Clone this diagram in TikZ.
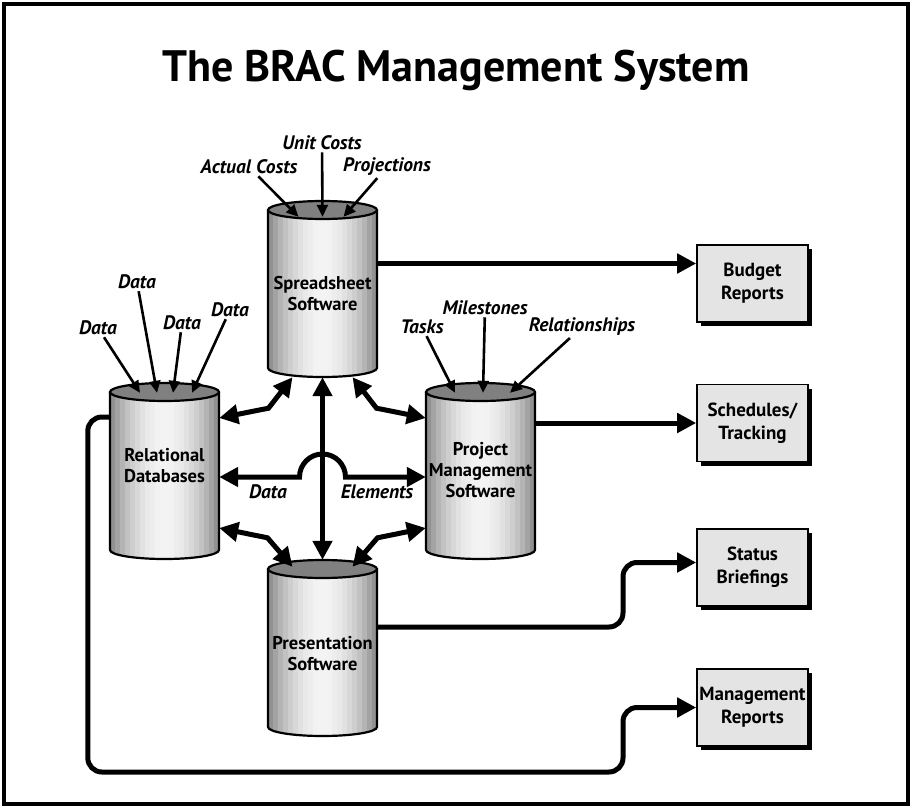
\documentclass[tikz,border=0pt]{standalone}
\usepackage{fontspec}
\setmainfont{PT Sans}
\usepackage{tikz}
\usetikzlibrary{arrows.meta,positioning,calc,shadows}
\definecolor{drumEdge}{RGB}{132, 132, 132}
\definecolor{drumLight}{RGB}{244, 244, 244}
\definecolor{drumTop}{RGB}{128, 128, 128}
\definecolor{boxGray}{RGB}{228, 228, 228}

\tikzset{
  drumbody/.style={minimum width=109pt, inner sep=0pt},
  drumtext/.style={align=center, font=\fontsize{18.5pt}{21pt}\selectfont\bfseries, inner sep=0pt},
  inlabel/.style={font=\fontsize{19.5pt}{21pt}\selectfont\bfseries\itshape, inner sep=2pt},
  outbox/.style={draw, line width=1.6pt, fill=boxGray, align=center,
    minimum width=111pt, minimum height=77pt, inner sep=0pt,
    font=\fontsize{19pt}{23pt}\selectfont\bfseries,
    drop shadow={shadow xshift=4pt, shadow yshift=-4pt, fill=black, opacity=1}},
  feed/.style={line width=2.6pt, -{Triangle[length=12pt, width=11pt]}},
  flow/.style={line width=5pt, -{Triangle[length=19pt, width=19pt]}},
  flowboth/.style={line width=5pt, {Triangle[length=19pt, width=19pt]}-{Triangle[length=19pt, width=19pt]}},
}

% drum: name, x of axis, y of top rim, y of text, label
\newcommand{\drum}[5]{%
  \begin{scope}
    \clip (#2-54.5,#3) -- (#2-54.5,#3+158) arc[start angle=180, end angle=360, x radius=54.5pt, y radius=9pt]
      -- (#2+54.5,#3) -- cycle;
    % vertical bands, light in the middle
    \foreach \i in {0,...,21} {
      \pgfmathsetmacro\mix{int(100*sin(180*(\i+0.5)/22)^0.8)}
      \fill[drumLight!\mix!drumEdge] (#2-54.5+\i*109/22,#3-1) rectangle (#2-54.5+\i*109/22+5.2,#3+170);
    }
  \end{scope}
  \draw[line width=2.2pt] (#2-54.5,#3) -- (#2-54.5,#3+158)
    arc[start angle=180, end angle=360, x radius=54.5pt, y radius=9pt] -- (#2+54.5,#3);
  \filldraw[fill=drumTop, line width=2.2pt] (#2,#3) ellipse[x radius=54.5pt, y radius=9pt];
  \node[drumbody, minimum height=176pt] (#1) at (#2,#3+79) {};
  \node[drumtext] (#1-txt) at (#2,#4) {#5};
}

\begin{document}
\begin{tikzpicture}[x=1pt, y=-1pt]
\useasboundingbox (0,0) rectangle (912,808);
\draw[line width=4pt] (4,4) rectangle (908,804);

\node[font=\fontsize{44pt}{50pt}\selectfont\bfseries] (title) at (456,70) {The BRAC Management System};

% the four drums
\drum{sheet}{322.5}{210}{294}{Spreadsheet\\Software}
\drum{rel}{164.5}{392}{466}{Relational\\Databases}
\drum{pm}{480.5}{392}{470}{Project\\Management\\Software}
\drum{pres}{322.5}{569}{654}{Presentation\\Software}

% output boxes
\node[outbox] (budget) at (752.5,283.5) {Budget\\Reports};
\node[outbox] (sched) at (752.5,423) {Schedules/\\Tracking};
\node[outbox] (status) at (752.5,567.5) {Status\\Briefings};
\node[outbox] (mgmt) at (752.5,707.5) {Management\\Reports};

% inputs
\node[inlabel] (unit) at (322,143) {Unit Costs};
\node[inlabel] (actual) at (249,167) {Actual Costs};
\node[inlabel] (proj) at (387,167) {Projections};
\draw[feed] (actual) -- ([xshift=-24pt, yshift=-16pt]sheet.north);
\draw[feed] (unit) -- ([yshift=-16pt]sheet.north);
\draw[feed] (proj) -- ([xshift=21pt, yshift=-16pt]sheet.north);

\node[inlabel] (data1) at (98,328) {Data};
\node[inlabel] (data2) at (137,282) {Data};
\node[inlabel] (data3) at (182,323) {Data};
\node[inlabel] (data4) at (230,310) {Data};
\draw[feed] (data1) -- ([xshift=-24.5pt, yshift=-10pt]rel.north);
\draw[feed] (data2) -- ([xshift=-7.5pt, yshift=-10pt]rel.north);
\draw[feed] (data3) -- ([xshift=8.5pt, yshift=-10pt]rel.north);
\draw[feed] (data4) -- ([xshift=27.5pt, yshift=-10pt]rel.north);

\node[inlabel] (tasks) at (422,327) {Tasks};
\node[inlabel] (miles) at (485,308) {Milestones};
\node[inlabel] (links) at (582,327) {Relationships};
\draw[feed] (tasks) -- ([xshift=-25.5pt, yshift=-10pt]pm.north);
\draw[feed] (miles) -- ([xshift=2.5pt, yshift=-10pt]pm.north);
\draw[feed] (links) -- ([xshift=29.5pt, yshift=-10pt]pm.north);

% exchanges between the drums
\draw[flowboth] ([xshift=-30pt]sheet.south) -- ($(sheet.south)+(-54,31)$) -- ([yshift=53pt]rel.east);
\draw[flowboth] ([xshift=30pt]sheet.south) -- ($(sheet.south)+(54,31)$) -- ([yshift=53pt]pm.west);
\draw[flowboth] ([yshift=-57pt]rel.east) -- ($(pres.north)+(-55,-22)$) -- ([xshift=-30pt, yshift=-7pt]pres.north);
\draw[flowboth] ([yshift=-57pt]pm.west) -- ($(pres.north)+(55,-22)$) -- ([xshift=30pt, yshift=-7pt]pres.north);
\draw[flowboth] (sheet.south) -- (pres.north);

\coordinate (hopL) at (299.5,477);
\draw[flowboth] (rel.east |- hopL) -- (hopL) arc[start angle=180, end angle=0, radius=23pt] -- (pm.west |- hopL);
\node[inlabel] (datalab) at (268,492) {Data};
\node[inlabel] (elemlab) at (377,492) {Elements};

% reports
\coordinate (budgetin) at ([yshift=20pt]budget.west);
\draw[flow] (sheet.east |- budgetin) -- (budgetin);
\draw[flow] (pm.east |- sched.west) -- (sched.west);
\coordinate (riser) at (623,0);
\coordinate (statusin) at ([yshift=5pt]status.west);
\draw[flow, rounded corners=14pt] ([yshift=21pt]pres.east) -- ([yshift=21pt]pres.east -| riser)
  -- (statusin -| riser) -- (statusin);
\draw[flow, rounded corners=14pt]
  ([yshift=54pt]rel.west) -- ++(-22,0) -- ++(0,355) -- (riser |- 0,772) -- (mgmt.west -| riser) -- (mgmt.west);
\end{tikzpicture}
\end{document}
